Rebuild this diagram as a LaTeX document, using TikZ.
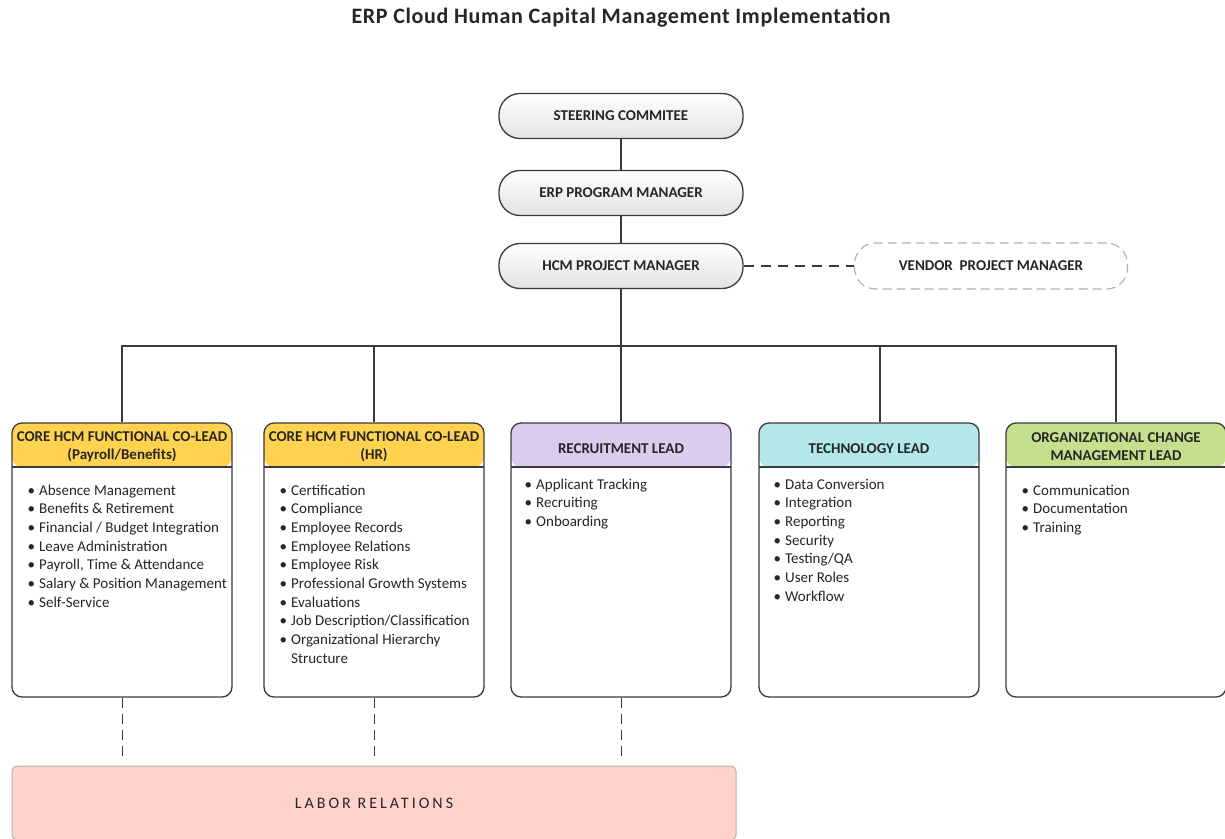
\documentclass[tikz,border=0pt]{standalone}
\usepackage{fontspec}
\setmainfont{Carlito}
\usepackage{tikz}
\usetikzlibrary{positioning, calc}

\definecolor{boxline}{HTML}{3A3A3A}
\definecolor{txt}{HTML}{262626}
\definecolor{hdyellow}{HTML}{FFD34F}
\definecolor{hdpurple}{HTML}{DBCBEE}
\definecolor{hdcyan}{HTML}{B3E7EA}
\definecolor{hdgreen}{HTML}{C5E08C}
\definecolor{laborpink}{HTML}{FFD3CC}

\newcommand{\sz}[2]{\fontsize{#1}{#2}\selectfont}
\newcommand{\bul}[1]{\makebox[11.5pt][l]{\textbullet}#1}

\begin{document}
\begin{tikzpicture}[x=1pt, y=-1pt, text=txt,
  line/.style={draw=boxline, line width=1.1pt},
  dline/.style={draw=boxline, line width=1pt, dash pattern=on 10pt off 6pt},
  pill/.style={draw=boxline, line width=1.3pt, rounded corners=21pt, minimum width=244pt, minimum height=45pt, top color=white, bottom color=gray!22, font=\bfseries\sz{15}{18}},
  lead/.style={draw=boxline, line width=1.3pt, rounded corners=10pt, fill=white, minimum width=220pt, minimum height=274pt,
    path picture={
      \fill[#1] (path picture bounding box.north west) rectangle ([yshift=-44pt]path picture bounding box.north east);
      \draw[boxline, line width=1.3pt] ([yshift=-44pt]path picture bounding box.north west) -- ([yshift=-44pt]path picture bounding box.north east);
    }},
  head/.style={font=\bfseries\sz{15}{18}, align=center, inner sep=0pt},
  % base of a list node is the baseline of its last line
  items/.style={anchor=base west, align=left, inner sep=0pt, font=\sz{15}{18.7}}]

  \useasboundingbox (0,0) rectangle (1225,838);

  \node[font=\bfseries\sz{22}{26}\addfontfeatures{LetterSpace=3}] (title) at (621,18) {ERP Cloud Human Capital Management Implementation};

  % management chain
  \node[pill] (steer) at (621,116) {STEERING COMMITEE};
  \node[pill] (erp) at (621,193) {ERP PROGRAM MANAGER};
  \node[pill] (hcm) at (621,266) {HCM PROJECT MANAGER};
  \node[draw=gray!60, line width=1.2pt, dash pattern=on 9pt off 5pt, rounded corners=21pt, fill=white,
        minimum width=273pt, minimum height=46pt, font=\bfseries\sz{15}{18}] (vendor) at (991,266) {VENDOR~ PROJECT MANAGER};

  \draw[line] (steer) -- (erp);
  \draw[line] (erp) -- (hcm);
  \draw[line, dash pattern=on 10pt off 7pt] (hcm) -- (vendor);

  % leads
  \node[lead=hdyellow] (pay) at (122,560) {};
  \node[lead=hdyellow] (hr) at (374,560) {};
  \node[lead=hdpurple] (rec) at (621,560) {};
  \node[lead=hdcyan] (tech) at (869,560) {};
  \node[lead=hdgreen] (ocm) at (1116,560) {};

  \node[head] (payhd) at ([yshift=-24.5pt]pay.north) {CORE HCM FUNCTIONAL CO-LEAD\\(Payroll/Benefits)};
  \node[head] (hrhd) at ([yshift=-24.5pt]hr.north) {CORE HCM FUNCTIONAL CO-LEAD\\(HR)};
  \node[head] (rechd) at ([yshift=-26pt]rec.north) {RECRUITMENT LEAD};
  \node[head] (techhd) at ([yshift=-26pt]tech.north) {TECHNOLOGY LEAD};
  \node[head] (ocmhd) at ([yshift=-24.5pt]ocm.north) {ORGANIZATIONAL CHANGE\\MANAGEMENT LEAD};

  \node[items] (payitems) at (27.5,607.2) {\bul{Absence Management}\\\bul{Benefits \& Retirement}\\\bul{Financial / Budget Integration}\\\bul{Leave Administration}\\\bul{Payroll, Time \& Attendance}\\\bul{Salary \& Position Management}\\\bul{Self-Service}};
  \node[items] (hritems) at (279.5,663.3) {\bul{Certification}\\\bul{Compliance}\\\bul{Employee Records}\\\bul{Employee Relations}\\\bul{Employee Risk}\\\bul{Professional Growth Systems}\\\bul{Evaluations}\\\bul{Job Description/Classification}\\\bul{Organizational Hierarchy}\\\hspace*{11.5pt}Structure};
  \node[items] (recitems) at (524.5,526.4) {\bul{Applicant Tracking}\\\bul{Recruiting}\\\bul{Onboarding}};
  \node[items] (techitems) at (773.5,601.2) {\bul{Data Conversion}\\\bul{Integration}\\\bul{Reporting}\\\bul{Security}\\\bul{Testing/QA}\\\bul{User Roles}\\\bul{Workflow}};
  \node[items] (ocmitems) at (1021.5,532.4) {\bul{Communication}\\\bul{Documentation}\\\bul{Training}};

  \coordinate (bus) at (621,346);
  \draw[line] (hcm) -- (bus);
  \foreach \n in {pay,hr,rec,ocm}
    \draw[line] (bus) -| (\n);
  \draw[line] (bus) -| ([xshift=11pt]tech.north);

  % labor relations
  \node[draw=gray!60, line width=1pt, fill=laborpink, rounded corners=5pt, minimum width=724pt, minimum height=74pt,
        font=\sz{16}{19}\addfontfeatures{LetterSpace=19}] (labor) at (374,803) {LABOR RELATIONS};
  \foreach \n in {pay,hr,rec}
    \draw[dline] (\n.south) -- ([yshift=4pt]\n.south |- labor.north);
\end{tikzpicture}
\end{document}
